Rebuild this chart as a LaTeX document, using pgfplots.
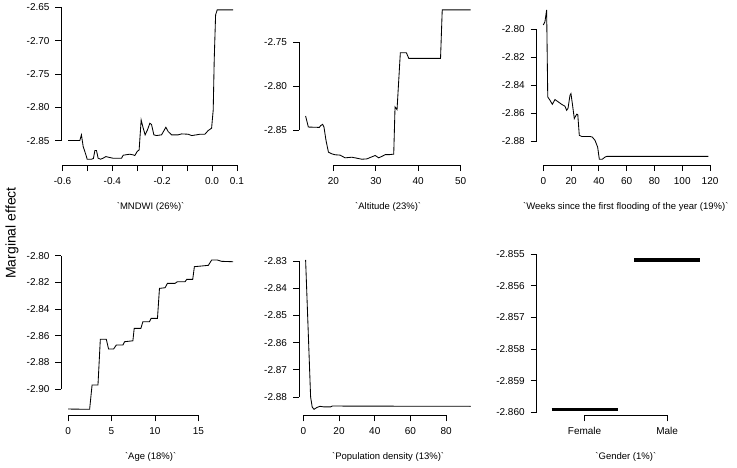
\documentclass[border=0pt]{standalone}
\usepackage{fontspec}
\setmainfont{Liberation Sans}
\usepackage{pgfplots}
\pgfplotsset{compat=1.18}

\pgfplotsset{
  rpanel/.style={
    scale only axis, width=178.3pt, height=161.3pt,
    anchor=south west,
    axis line style={draw=none},
    tick pos=left, tick align=outside,
    major tick length=6pt,
    every tick/.style={black, line width=0.8pt},
    clip=false, scaled ticks=false,
    ticklabel style={font=\fontsize{10}{12}\selectfont},
    yticklabel style={xshift=-2.5pt},
    xticklabel style={yshift=-2.5pt},
    xlabel style={font=\fontsize{9.5}{11}\selectfont, at={(axis description cs:0.5,0)}, anchor=center, yshift=-42pt},
  },
  rline/.style={black, line width=0.85pt, mark=none},
}
\tikzset{rax/.style={black, line width=0.8pt}}
\newcommand{\bq}{\textasciigrave}

\begin{document}
\begin{tikzpicture}
\useasboundingbox (0,0) rectangle (737pt,467pt);

\node[rotate=90, font=\fontsize{14}{16}\selectfont] at (12pt,234pt) {Marginal effect};

% MNDWI
\begin{axis}[rpanel, at={(61.5pt,301.8pt)},
  xmin=-0.604, xmax=0.1116, ymin=-2.887, ymax=-2.6448,
  xtick={-0.6,-0.5,-0.4,-0.3,-0.2,-0.1,0,0.1},
  xticklabels={-0.6,{},-0.4,{},-0.2,{},0.0,0.1},
  ytick={-2.85,-2.80,-2.75,-2.70,-2.65},
  yticklabels={-2.85,-2.80,-2.75,-2.70,-2.65},
  xlabel={\bq MNDWI (26\%)\bq}]
\addplot[rline] coordinates {(-0.5775,-2.850)(-0.5305,-2.850)(-0.524,-2.8414)(-0.517,-2.859)(-0.506,-2.8715)(-0.501,-2.878)(-0.4835,-2.878)(-0.476,-2.877)(-0.470,-2.865)(-0.4635,-2.865)(-0.457,-2.8765)(-0.4475,-2.878)(-0.437,-2.8765)(-0.426,-2.874)(-0.410,-2.8755)(-0.397,-2.8765)(-0.363,-2.8765)(-0.3565,-2.872)(-0.330,-2.8705)(-0.3165,-2.8715)(-0.3097,-2.8725)(-0.3004,-2.8665)(-0.2924,-2.864)(-0.2843,-2.819)(-0.276,-2.8314)(-0.2683,-2.8414)(-0.259,-2.834)(-0.2494,-2.824)(-0.2426,-2.826)(-0.2333,-2.8414)(-0.2225,-2.8425)(-0.2024,-2.8414)(-0.1851,-2.830)(-0.1759,-2.8365)(-0.1622,-2.8414)(-0.1357,-2.8414)(-0.122,-2.840)(-0.0955,-2.8405)(-0.0819,-2.8425)(-0.0618,-2.8414)(-0.0486,-2.8405)(-0.0285,-2.8405)(-0.0153,-2.835)(-0.0016,-2.8314)(0.0049,-2.804)(0.0089,-2.729)(0.0145,-2.6612)(0.021,-2.6538)(0.0851,-2.6538)};
\draw[rax] (axis cs:-0.6,-2.887) -- (axis cs:0.1,-2.887);
\draw[rax] (axis cs:-0.604,-2.85) -- (axis cs:-0.604,-2.65);
\end{axis}

% Altitude
\begin{axis}[rpanel, at={(299pt,301.8pt)},
  xmin=11.88, xmax=53.93, ymin=-2.8901, ymax=-2.7062,
  xtick={20,30,40,50}, xticklabels={20,30,40,50},
  ytick={-2.85,-2.80,-2.75}, yticklabels={-2.85,-2.80,-2.75},
  xlabel={\bq Altitude (23\%)\bq}]
\addplot[rline] coordinates {(13.44,-2.834)(14.08,-2.8466)(16.68,-2.847)(16.99,-2.845)(17.46,-2.8435)(17.77,-2.8466)(18.25,-2.8619)(18.82,-2.8752)(19.6,-2.8771)(20.38,-2.8782)(21.56,-2.8786)(22.75,-2.8817)(24.34,-2.881)(25.52,-2.8821)(26.7,-2.8833)(27.89,-2.8829)(28.84,-2.881)(29.86,-2.879)(30.66,-2.8817)(31.45,-2.880)(32.23,-2.878)(33.27,-2.878)(34.22,-2.8775)(34.53,-2.8237)(35.0,-2.8267)(35.78,-2.7619)(37.2,-2.7619)(37.77,-2.7683)(45.26,-2.7683)(45.66,-2.713)(52.37,-2.713)};
\draw[rax] (axis cs:20,-2.8901) -- (axis cs:50,-2.8901);
\draw[rax] (axis cs:11.88,-2.85) -- (axis cs:11.88,-2.75);
\end{axis}

% Weeks
\begin{axis}[rpanel, at={(536.7pt,301.8pt)},
  xmin=-4.75, xmax=123.55, ymin=-2.8973, ymax=-2.7818,
  xtick={0,20,40,60,80,100,120}, xticklabels={0,20,40,60,80,100,120},
  ytick={-2.88,-2.86,-2.84,-2.82,-2.80}, yticklabels={-2.88,-2.86,-2.84,-2.82,-2.80},
  xlabel={\bq Weeks since the first flooding of the year (19\%)\bq}]
\addplot[rline] coordinates {(0,-2.7969)(1.2,-2.7945)(2.4,-2.7861)(3.2,-2.8484)(4.8,-2.8508)(6.5,-2.8537)(8.4,-2.8503)(10.8,-2.852)(13.2,-2.8537)(15.6,-2.8551)(16.8,-2.858)(17.8,-2.8565)(19.2,-2.8472)(19.9,-2.846)(20.9,-2.8532)(22.3,-2.8639)(24,-2.8608)(24.8,-2.861)(25.9,-2.8759)(27.6,-2.8767)(33.6,-2.8767)(35.3,-2.8772)(37.2,-2.8795)(39.1,-2.8843)(40.3,-2.893)(42.5,-2.893)(44.4,-2.8915)(45.6,-2.891)(118.8,-2.891)};
\draw[rax] (axis cs:0,-2.8973) -- (axis cs:120,-2.8973);
\draw[rax] (axis cs:-4.75,-2.88) -- (axis cs:-4.75,-2.80);
\end{axis}

% Age
\begin{axis}[rpanel, at={(61.5pt,51.7pt)},
  xmin=-0.76, xmax=19.77, ymin=-2.9197, ymax=-2.7987,
  xtick={0,5,10,15}, xticklabels={0,5,10,15},
  ytick={-2.90,-2.88,-2.86,-2.84,-2.82,-2.80}, yticklabels={-2.90,-2.88,-2.86,-2.84,-2.82,-2.80},
  xlabel={\bq Age (18\%)\bq}]
\addplot[rline] coordinates {(0,-2.915)(2.48,-2.9152)(2.76,-2.897)(3.44,-2.897)(3.71,-2.8627)(4.40,-2.8627)(4.66,-2.870)(5.24,-2.870)(5.55,-2.867)(6.31,-2.867)(6.5,-2.8645)(7.46,-2.8638)(7.61,-2.8545)(8.38,-2.8545)(8.61,-2.8495)(9.37,-2.8495)(9.56,-2.847)(10.29,-2.847)(10.52,-2.8245)(11.17,-2.824)(11.44,-2.8207)(12.32,-2.8207)(12.58,-2.8195)(13.47,-2.8195)(13.66,-2.8177)(14.35,-2.8177)(14.54,-2.8082)(15.38,-2.8077)(16.15,-2.8072)(16.53,-2.8032)(17.18,-2.8032)(17.68,-2.8042)(19.01,-2.8045)};
\draw[rax] (axis cs:0,-2.9197) -- (axis cs:15,-2.9197);
\draw[rax] (axis cs:-0.76,-2.90) -- (axis cs:-0.76,-2.80);
\end{axis}

% Population density
\begin{axis}[rpanel, at={(299pt,51.7pt)},
  xmin=-2.4, xmax=97.4, ymin=-2.8867, ymax=-2.8274,
  xtick={0,20,40,60,80}, xticklabels={0,20,40,60,80},
  ytick={-2.88,-2.87,-2.86,-2.85,-2.84,-2.83}, yticklabels={-2.88,-2.87,-2.86,-2.85,-2.84,-2.83},
  xlabel={\bq Population density (13\%)\bq}]
\addplot[rline] coordinates {(1.3,-2.8296)(4.1,-2.880)(5.0,-2.8837)(6.0,-2.8845)(7.4,-2.8839)(9.3,-2.8834)(11.5,-2.8836)(15.3,-2.8836)(16.2,-2.8833)(93.7,-2.8834)};
\draw[rax] (axis cs:0,-2.8867) -- (axis cs:80,-2.8867);
\draw[rax] (axis cs:-2.4,-2.88) -- (axis cs:-2.4,-2.83);
\end{axis}

% Gender
\begin{axis}[rpanel, at={(536.7pt,51.7pt)},
  xmin=0.42, xmax=2.58, ymin=-2.8601, ymax=-2.85499,
  xtick={1,2}, xticklabels={Female,Male},
  ytick={-2.860,-2.859,-2.858,-2.857,-2.856,-2.855}, yticklabels={-2.860,-2.859,-2.858,-2.857,-2.856,-2.855},
  xlabel={\bq Gender (1\%)\bq}]
\addplot[black, line width=3.2pt, mark=none] coordinates {(0.6,-2.85991)(1.4,-2.85991)};
\addplot[black, line width=3.2pt, mark=none] coordinates {(1.6,-2.85518)(2.4,-2.85518)};
\draw[rax] (axis cs:1,-2.8601) -- (axis cs:2,-2.8601);
\draw[rax] (axis cs:0.42,-2.860) -- (axis cs:0.42,-2.855);
\end{axis}
\end{tikzpicture}
\end{document}
